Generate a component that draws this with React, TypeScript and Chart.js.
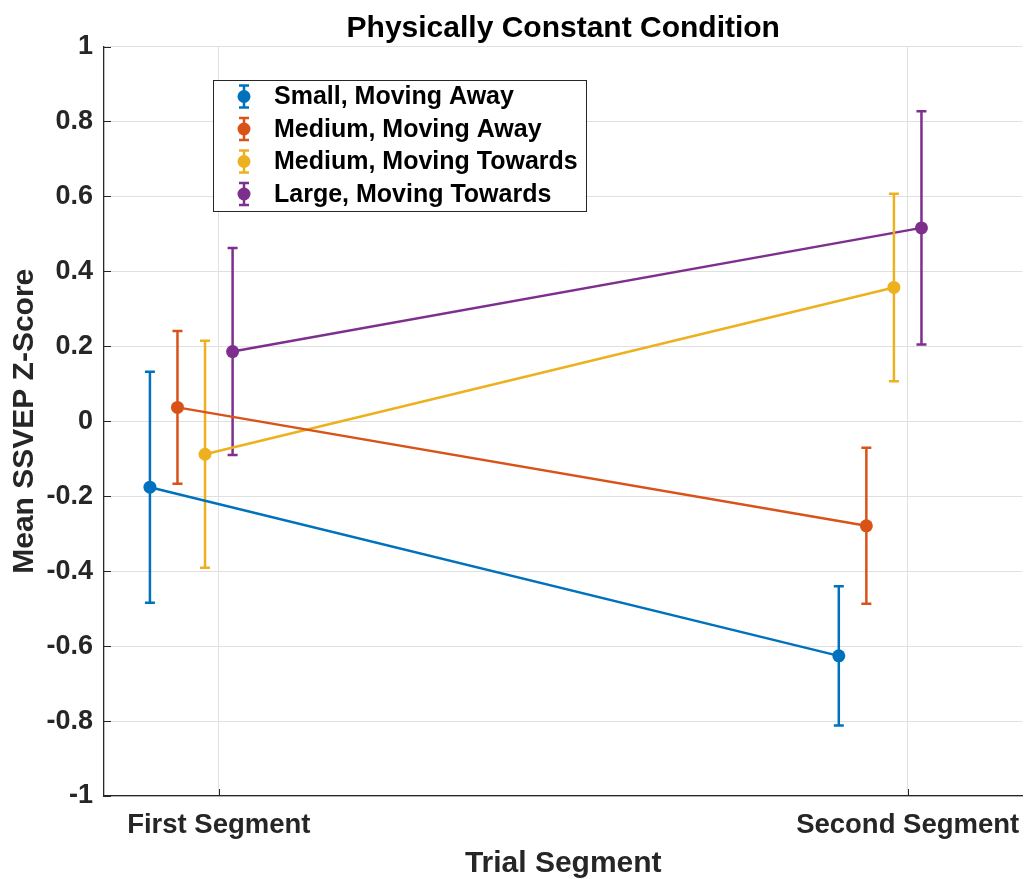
import { useEffect, useRef } from 'react';
import { Chart, registerables } from 'chart.js';

Chart.register(...registerables);

// Trial segments on the x axis
const segmentLabels = ['First Segment', 'Second Segment'];
const segmentPositions = [1, 2];

// Series names, colours and their horizontal dodge around each segment
const seriesNames = [
  'Small, Moving Away',
  'Medium, Moving Away',
  'Medium, Moving Towards',
  'Large, Moving Towards',
];
const seriesColors = ['#0072BD', '#D95319', '#EDB120', '#7E2F8E'];
const seriesOffsets = [-0.1, -0.06, -0.02, 0.02];

// Mean SSVEP z-scores and their error half-widths, per segment
const smallAwayMeans = [-0.176, -0.626];
const smallAwayErrors = [0.308, 0.186];
const mediumAwayMeans = [0.037, -0.279];
const mediumAwayErrors = [0.204, 0.208];
const mediumTowardsMeans = [-0.088, 0.357];
const mediumTowardsErrors = [0.303, 0.25];
const largeTowardsMeans = [0.186, 0.516];
const largeTowardsErrors = [0.276, 0.311];

const seriesMeans = [smallAwayMeans, mediumAwayMeans, mediumTowardsMeans, largeTowardsMeans];
const seriesErrors = [smallAwayErrors, mediumAwayErrors, mediumTowardsErrors, largeTowardsErrors];

// Y axis ticks
const yTickValues = [-1, -0.8, -0.6, -0.4, -0.2, 0, 0.2, 0.4, 0.6, 0.8, 1];

const chartTitle = 'Physically Constant Condition';
const xAxisTitle = 'Trial Segment';
const yAxisTitle = 'Mean SSVEP Z-Score';

const FONT = '"Liberation Sans", Arial, Helvetica, sans-serif';
const AXIS_COLOR = '#262626';
const GRID_COLOR = '#e0e0e0';
const LINE_WIDTH = 2.5;

const errorBarPlugin = {
  id: 'errorBars',
  beforeDatasetDraw(chart: any, args: any) {
    const ds = chart.data.datasets[args.index];
    const errs: number[] = ds.errors;
    if (!errs) return;
    const xs = chart.scales.x;
    const ys = chart.scales.y;
    const ctx = chart.ctx;
    const capHalf = 5;
    ctx.save();
    ctx.strokeStyle = ds.borderColor;
    ctx.lineWidth = LINE_WIDTH;
    ctx.lineCap = 'butt';
    ds.data.forEach((p: any, j: number) => {
      const x = xs.getPixelForValue(p.x);
      const yTop = ys.getPixelForValue(p.y + errs[j]);
      const yBot = ys.getPixelForValue(p.y - errs[j]);
      ctx.beginPath();
      ctx.moveTo(x, yTop);
      ctx.lineTo(x, yBot);
      ctx.moveTo(x - capHalf, yTop);
      ctx.lineTo(x + capHalf, yTop);
      ctx.moveTo(x - capHalf, yBot);
      ctx.lineTo(x + capHalf, yBot);
      ctx.stroke();
    });
    ctx.restore();
  },
};

// Inward tick marks along the left and bottom axes
const innerTicksPlugin = {
  id: 'innerTicks',
  beforeDatasetsDraw(chart: any) {
    const { ctx, chartArea } = chart;
    const xs = chart.scales.x;
    const ys = chart.scales.y;
    const len = 7;
    ctx.save();
    ctx.strokeStyle = AXIS_COLOR;
    ctx.lineWidth = 1;
    ys.ticks.forEach((t: any) => {
      const y = Math.round(ys.getPixelForValue(t.value)) + 0.5;
      ctx.beginPath();
      ctx.moveTo(chartArea.left, y);
      ctx.lineTo(chartArea.left + len, y);
      ctx.stroke();
    });
    xs.ticks.forEach((t: any) => {
      const x = Math.round(xs.getPixelForValue(t.value)) + 0.5;
      ctx.beginPath();
      ctx.moveTo(x, chartArea.bottom);
      ctx.lineTo(x, chartArea.bottom - len);
      ctx.stroke();
    });
    ctx.restore();
  },
};

// Title centred over the plot area, and the boxed legend
const overlayPlugin = {
  id: 'overlay',
  afterDraw(chart: any) {
    const { ctx, chartArea } = chart;
    ctx.save();
    ctx.fillStyle = '#000';
    ctx.font = `bold 30px ${FONT}`;
    ctx.textAlign = 'center';
    ctx.textBaseline = 'alphabetic';
    ctx.fillText(chartTitle, (chartArea.left + chartArea.right) / 2, chartArea.top - 10);

    ctx.font = `bold 25px ${FONT}`;
    const textWidth = Math.max(...seriesNames.map((n) => ctx.measureText(n).width));
    const left = chartArea.left + 109;
    const top = chartArea.top + 33.5;
    const rowH = 32.5;
    const padY = 16.5;
    const textX = 61;
    const width = textX + textWidth + 8;
    const height = padY * 2 + rowH * (seriesNames.length - 1);
    ctx.fillStyle = '#ffffff';
    ctx.fillRect(left, top, width, height);
    ctx.strokeStyle = AXIS_COLOR;
    ctx.lineWidth = 1;
    ctx.strokeRect(Math.round(left) + 0.5, Math.round(top) + 0.5, Math.round(width), Math.round(height));

    seriesNames.forEach((name, i) => {
      const cy = top + padY + rowH * i;
      const mx = left + 31;
      ctx.strokeStyle = seriesColors[i];
      ctx.lineWidth = LINE_WIDTH;
      ctx.beginPath();
      ctx.moveTo(mx, cy - 11);
      ctx.lineTo(mx, cy + 11);
      ctx.moveTo(mx - 5, cy - 11);
      ctx.lineTo(mx + 5, cy - 11);
      ctx.moveTo(mx - 5, cy + 11);
      ctx.lineTo(mx + 5, cy + 11);
      ctx.stroke();
      ctx.fillStyle = seriesColors[i];
      ctx.beginPath();
      ctx.arc(mx, cy, 6.5, 0, Math.PI * 2);
      ctx.fill();
      ctx.fillStyle = '#000';
      ctx.textAlign = 'left';
      ctx.textBaseline = 'middle';
      ctx.fillText(name, left + textX, cy + 1);
    });
    ctx.restore();
  },
};

export default function App() {
  const canvasRef = useRef<HTMLCanvasElement | null>(null);

  useEffect(() => {
    if (!canvasRef.current) return;
    const datasets = seriesNames.map((name, i) => ({
      label: name,
      data: segmentPositions.map((pos, j) => ({ x: pos + seriesOffsets[i], y: seriesMeans[i][j] })),
      errors: seriesErrors[i],
      borderColor: seriesColors[i],
      backgroundColor: seriesColors[i],
      pointBackgroundColor: seriesColors[i],
      pointBorderColor: seriesColors[i],
      pointRadius: 6.5,
      pointBorderWidth: 0,
      borderWidth: LINE_WIDTH,
      showLine: true,
      tension: 0,
    }));

    const chart = new Chart(canvasRef.current, {
      type: 'line',
      data: { datasets: datasets as any },
      plugins: [errorBarPlugin, innerTicksPlugin, overlayPlugin],
      options: {
        animation: false,
        responsive: false,
        layout: { padding: { top: 46.5, right: 4, left: 0, bottom: 0 } },
        plugins: {
          legend: { display: false },
          title: { display: false },
          tooltip: { enabled: false },
        },
        scales: {
          x: {
            type: 'linear',
            min: 1 - 1 / 6,
            max: 2 + 1 / 6,
            afterBuildTicks: (scale: any) => {
              scale.ticks = segmentPositions.map((v) => ({ value: v }));
            },
            afterFit: (scale: any) => {
              scale.height = 83;
              scale.paddingLeft = 0;
              scale.paddingRight = 0;
            },
            ticks: {
              autoSkip: false,
              maxRotation: 0,
              padding: 13,
              color: AXIS_COLOR,
              font: { family: FONT, size: 27.5, weight: 'bold' },
              callback: (v: any) => {
                const idx = segmentPositions.indexOf(Number(v));
                return idx >= 0 ? segmentLabels[idx] : '';
              },
            },
            grid: { color: GRID_COLOR, drawTicks: false, lineWidth: 1 },
            border: { display: true, color: AXIS_COLOR, width: 1.3 },
            title: {
              display: true,
              text: xAxisTitle,
              color: AXIS_COLOR,
              font: { family: FONT, size: 30, weight: 'bold', lineHeight: 1.0 },
              padding: { top: 0, bottom: 0 },
            },
          },
          y: {
            type: 'linear',
            min: -1,
            max: 1,
            afterBuildTicks: (scale: any) => {
              scale.ticks = yTickValues.map((v) => ({ value: v }));
            },
            afterFit: (scale: any) => {
              scale.width = 104;
              scale.paddingTop = 0;
              scale.paddingBottom = 0;
            },
            ticks: {
              padding: 11,
              color: AXIS_COLOR,
              font: { family: FONT, size: 27, weight: 'bold' },
              callback: (v: any) => String(Number(Number(v).toFixed(1))),
            },
            grid: { color: GRID_COLOR, drawTicks: false, lineWidth: 1 },
            border: { display: true, color: AXIS_COLOR, width: 1.3 },
            title: {
              display: true,
              text: yAxisTitle,
              color: AXIS_COLOR,
              font: { family: FONT, size: 30, weight: 'bold' },
              padding: { top: 7, bottom: 0 },
            },
          },
        },
      } as any,
    });
    return () => chart.destroy();
  }, []);

  return (
    <div style={{ position: 'absolute', left: 0, top: 0, width: 1029, height: 879, background: '#fff' }}>
      <canvas ref={canvasRef} width={1029} height={879} />
    </div>
  );
}
